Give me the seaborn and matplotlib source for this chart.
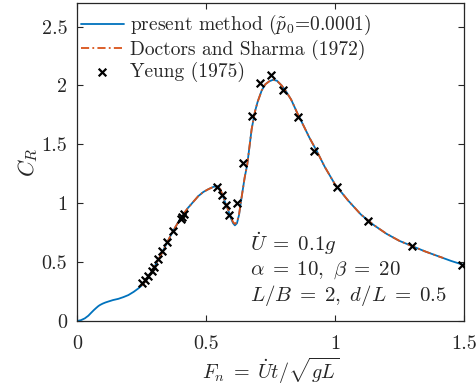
import numpy as np
import pandas as pd
import seaborn as sns
import matplotlib
matplotlib.use("Agg")
import matplotlib.pyplot as plt
from matplotlib.ticker import FuncFormatter

# present method curve (Fn, CR)
fn_present = [0.0, 0.015, 0.03, 0.044, 0.055, 0.065, 0.075, 0.083, 0.09, 0.10, 0.11, 0.121, 0.14,
              0.16, 0.18, 0.199, 0.22, 0.238,
              0.25, 0.27, 0.29, 0.31, 0.33, 0.35, 0.37, 0.39, 0.41, 0.43, 0.45, 0.47, 0.49, 0.51,
              0.53, 0.545, 0.555, 0.567, 0.577, 0.587, 0.597, 0.605, 0.612, 0.62, 0.628, 0.638,
              0.65, 0.66, 0.677, 0.69, 0.70, 0.716, 0.73, 0.745, 0.76, 0.775, 0.793, 0.81, 0.83,
              0.855, 0.88, 0.90, 0.93, 0.96, 1.00, 1.05, 1.10, 1.15, 1.20, 1.25, 1.30, 1.35,
              1.40, 1.45, 1.50]
cr_present = [0.0, 0.007, 0.022, 0.045, 0.07, 0.092, 0.112, 0.127, 0.137, 0.148, 0.157, 0.165, 0.178,
              0.188, 0.203, 0.220, 0.248, 0.277,
              0.30, 0.35, 0.42, 0.50, 0.58, 0.67, 0.755, 0.83, 0.90, 0.96, 1.01, 1.06, 1.096, 1.12,
              1.14, 1.145, 1.12, 1.053, 0.99, 0.935, 0.87, 0.83, 0.812, 0.83, 0.90, 1.05,
              1.22, 1.33, 1.63, 1.78, 1.86, 1.958, 2.01, 2.035, 2.048, 2.04, 2.0, 1.95, 1.88,
              1.76, 1.65, 1.56, 1.44, 1.31, 1.16, 1.025, 0.905, 0.815, 0.74, 0.68, 0.635, 0.59,
              0.55, 0.51, 0.475]

# Doctors and Sharma (1972)
fn_doctors = [0.25, 0.27, 0.29, 0.31, 0.33, 0.35, 0.37, 0.39, 0.41, 0.43, 0.45, 0.47, 0.49, 0.51,
              0.53, 0.545, 0.555, 0.567, 0.577, 0.587, 0.597, 0.605, 0.612, 0.62, 0.628, 0.638,
              0.65, 0.66, 0.677, 0.69, 0.70, 0.716, 0.73, 0.745, 0.76, 0.775, 0.793, 0.81, 0.83,
              0.855, 0.88, 0.90, 0.93, 0.96, 1.00, 1.05, 1.10, 1.15, 1.20, 1.25, 1.30, 1.35,
              1.40, 1.42]
cr_doctors = [0.30, 0.35, 0.42, 0.50, 0.58, 0.67, 0.755, 0.83, 0.90, 0.96, 1.01, 1.06, 1.096, 1.12,
              1.14, 1.145, 1.12, 1.055, 0.995, 0.94, 0.878, 0.84, 0.825, 0.84, 0.905, 1.05,
              1.22, 1.33, 1.63, 1.78, 1.86, 1.958, 2.01, 2.035, 2.048, 2.04, 2.0, 1.95, 1.88,
              1.76, 1.65, 1.56, 1.44, 1.31, 1.16, 1.025, 0.905, 0.815, 0.74, 0.68, 0.635, 0.59,
              0.55, 0.535]

# Yeung (1975) experimental points
fn_yeung = [0.251, 0.264, 0.276, 0.290, 0.298, 0.315, 0.331, 0.350, 0.373, 0.402, 0.408, 0.414,
            0.541, 0.561, 0.576, 0.590, 0.621, 0.642, 0.680, 0.709, 0.751, 0.797, 0.855, 0.920,
            1.009, 1.129, 1.297, 1.493]
cr_yeung = [0.319, 0.347, 0.381, 0.424, 0.460, 0.523, 0.596, 0.672, 0.763, 0.862, 0.885, 0.905,
            1.138, 1.068, 0.983, 0.904, 1.006, 1.345, 1.737, 2.02, 2.09, 1.963, 1.731, 1.441,
            1.136, 0.847, 0.638, 0.475]

x_ticks = [0, 0.5, 1, 1.5]
y_ticks = [0, 0.5, 1, 1.5, 2, 2.5]

sns.set_style("ticks")
plt.rcParams['font.family'] = ['cmr10', 'DejaVu Serif']
plt.rcParams['mathtext.fontset'] = 'cm'
plt.rcParams['axes.formatter.use_mathtext'] = True
plt.rcParams['axes.unicode_minus'] = False

fig = plt.figure(figsize=(4.77, 3.89), dpi=100)
ax = fig.add_axes([77/477, 1 - 321/389, (464 - 77)/477, (321 - 3)/389])

blue = '#0072BD'
orange = '#D95319'
dark = '#262626'

df_p = pd.DataFrame({'Fn': fn_present, 'CR': cr_present})
df_d = pd.DataFrame({'Fn': fn_doctors, 'CR': cr_doctors})
df_y = pd.DataFrame({'Fn': fn_yeung, 'CR': cr_yeung})

sns.lineplot(data=df_p, x='Fn', y='CR', ax=ax, color=blue, linewidth=1.3, sort=False,
             label=r'present method ($\tilde{p}_0$=0.0001)')
sns.lineplot(data=df_d, x='Fn', y='CR', ax=ax, color=orange, linewidth=1.3, sort=False,
             linestyle=(0, (4.5, 1.8, 1.0, 1.8)), label='Doctors and Sharma (1972)')
sns.scatterplot(data=df_y, x='Fn', y='CR', ax=ax, marker='x', color='black', s=30,
                linewidth=1.6, label='Yeung (1975)', zorder=5)

ax.set_xlim(0, 1.5)
ax.set_ylim(0, 2.7)
ax.set_xticks(x_ticks)
ax.set_yticks(y_ticks)
fmt = FuncFormatter(lambda v, p: ('%g' % v))
ax.xaxis.set_major_formatter(fmt)
ax.yaxis.set_major_formatter(fmt)
ax.tick_params(direction='in', top=True, right=True, length=4, width=0.8, labelsize=14.5,
               colors=dark, labelcolor=dark)
ax.tick_params(axis='x', pad=10)
ax.tick_params(axis='y', pad=7)
for s in ax.spines.values():
    s.set_visible(True)
    s.set_linewidth(0.9)
    s.set_color(dark)

ax.set_xlabel(r'$F_n\;=\;\dot{U}t/\sqrt{gL}$', fontsize=14.5, color=dark, labelpad=2)
ax.set_ylabel(r'$C_R$', fontsize=16, color=dark, labelpad=1)

ax.text(0.67, 0.66, r'$\dot{U}\;=\;0.1g$', fontsize=15, color=dark, va='center')
ax.text(0.67, 0.435, r'$\alpha\;=\;10,\ \beta\;=\;20$', fontsize=15, color=dark, va='center')
ax.text(0.67, 0.215, r'$L/B\;=\;2,\ d/L\;=\;0.5$', fontsize=15, color=dark, va='center')

leg = ax.legend(loc='upper left', bbox_to_anchor=(0.0, 0.98), frameon=False, fontsize=14,
                handlelength=2.2, handletextpad=0.3, labelspacing=0.12, borderaxespad=0.1,
                borderpad=0.1)
for t in leg.get_texts():
    t.set_color(dark)

fig.savefig('out.png', dpi=100)
